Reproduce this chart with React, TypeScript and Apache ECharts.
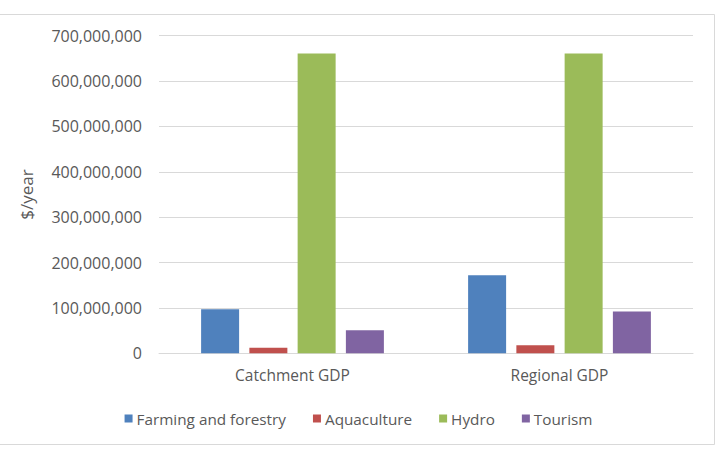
import React, { useEffect, useRef } from "react";
import * as echarts from "echarts";

// Annual value by sector, $/year
const categories = ["Catchment GDP", "Regional GDP"];
const farmingAndForestry = [97000000, 172000000];
const aquaculture = [12500000, 18000000];
const hydro = [661000000, 661000000];
const tourism = [51000000, 92000000];

const seriesNames = ["Farming and forestry", "Aquaculture", "Hydro", "Tourism"];
const seriesColors = ["#4F81BD", "#C0504D", "#9BBB59", "#8064A2"];

const FONT = "'Open Sans', 'Noto Sans', sans-serif";
const TEXT = "#595959";

export default function App() {
  const ref = useRef<HTMLDivElement>(null);

  useEffect(() => {
    if (!ref.current) return;
    const chart = echarts.init(ref.current, null, { renderer: "svg" });
    const values = [farmingAndForestry, aquaculture, hydro, tourism];

    chart.setOption({
      animation: false,
      backgroundColor: "#ffffff",
      textStyle: { fontFamily: FONT, color: TEXT },
      graphic: [
        {
          // chart-area frame: top, right and bottom edges
          type: "polyline",
          shape: { points: [[0, 14.5], [714.5, 14.5], [714.5, 444.5], [0, 444.5]] },
          style: { fill: "none", stroke: "#d9d9d9", lineWidth: 1 },
          silent: true,
        },
      ],
      grid: { left: 159, right: 24, top: 35.7, bottom: 96.7, containLabel: false },
      legend: {
        data: seriesNames,
        left: "center",
        top: 406,
        icon: "rect",
        itemWidth: 8,
        itemHeight: 8,
        itemGap: 27,
        textStyle: { fontFamily: FONT, fontSize: 15.3, color: TEXT, padding: [0, 0, 0, -1] },
      },
      xAxis: {
        type: "category",
        data: categories,
        axisLine: { show: true, lineStyle: { color: "#d9d9d9", width: 1 } },
        axisTick: { show: false },
        axisLabel: { fontFamily: FONT, fontSize: 15.5, color: TEXT, margin: 14 },
      },
      yAxis: {
        type: "value",
        min: 0,
        max: 700000000,
        interval: 100000000,
        name: "$/year",
        nameLocation: "middle",
        nameGap: 124,
        nameRotate: 90,
        nameTextStyle: { fontFamily: FONT, fontSize: 17, color: TEXT },
        axisLine: { show: false },
        axisTick: { show: false },
        splitLine: { lineStyle: { color: "#d9d9d9", width: 1 } },
        axisLabel: {
          fontFamily: FONT,
          fontSize: 16,
          color: TEXT,
          margin: 17,
          formatter: (v: number) => v.toLocaleString("en-US"),
        },
      },
      series: seriesNames.map((name, i) => ({
        name,
        type: "bar",
        data: values[i],
        barWidth: 38,
        barGap: "27%",
        itemStyle: { color: seriesColors[i] },
      })),
    });

    return () => chart.dispose();
  }, []);

  return (
    <div
      ref={ref}
      style={{ position: "fixed", left: 0, top: 0, width: 717, height: 450 }}
    />
  );
}
